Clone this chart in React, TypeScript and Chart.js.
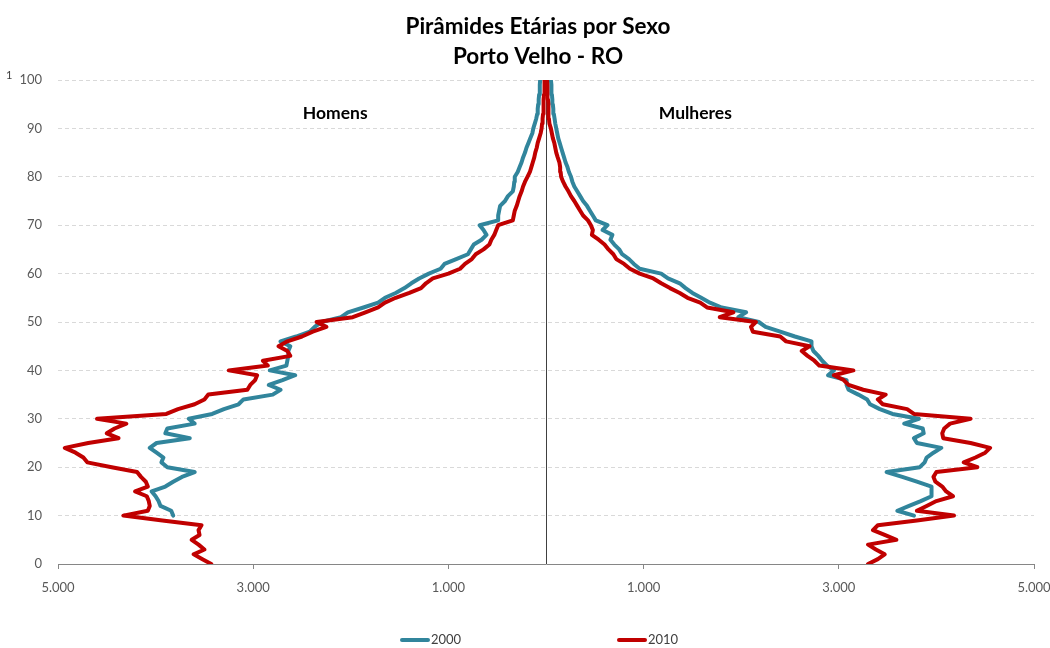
import React, { useEffect, useRef } from 'react';
import { Chart, registerables } from 'chart.js';

Chart.register(...registerables);

const TITLE = ['Pirâmides Etárias por Sexo', 'Porto Velho - RO'];
const SIDE_LABELS = ['Homens', 'Mulheres'];
const SERIES_LABELS = ['2000', '2010'];
const SERIES_COLORS = ['#31859C', '#C00000'];
const X_TICKS = [-5000, -3000, -1000, 1000, 3000, 5000];
const FIRST_AGE_2010 = 0;
const FIRST_AGE_2000 = 10;

// Population by single year of age (men shown on the left side)
const MEN_2010 = [
  3430, 3520, 3610, 3500, 3560, 3630, 3550, 3560, 3530, 3930,
  4330, 4080, 4060, 4070, 4090, 4210, 4080, 4100, 4150, 4190,
  4450, 4700, 4740, 4820, 4930, 4690, 4380, 4500, 4420, 4300,
  4600, 3890, 3770, 3600, 3500, 3460, 3060, 3030, 2980, 2960,
  3250, 2850, 2900, 2620, 2650, 2740, 2650, 2500, 2390, 2250,
  2350, 1980, 1850, 1720, 1650, 1540, 1400, 1280, 1230, 1160,
  1000, 880, 830, 760, 720, 640, 580, 560, 530, 510,
  490, 340, 330, 320, 300, 285, 270, 250, 235, 215,
  190, 165, 150, 135, 120, 110, 95, 85, 70, 55,
  45, 40, 35, 30, 28, 25, 22, 20, 18, 15, 12,
];
const WOMEN_2010 = [
  3300, 3400, 3470, 3380, 3300, 3590, 3470, 3350, 3400, 3800,
  4180, 3800, 3900, 4000, 4170, 4100, 4060, 3990, 3970, 4000,
  4420, 4280, 4400, 4500, 4550, 4350, 4070, 4060, 4080, 4140,
  4350, 3770, 3700, 3450, 3400, 3480, 3250, 3100, 3050, 2950,
  3150, 2800, 2750, 2680, 2620, 2700, 2460, 2400, 2120, 2100,
  2150, 1780, 1920, 1650, 1580, 1450, 1370, 1270, 1180, 1100,
  960, 860, 800, 720, 690, 640, 600, 540, 470, 480,
  460, 430, 380, 350, 320, 290, 256, 230, 200, 175,
  155, 150, 145, 137, 120, 105, 95, 85, 70, 60,
  50, 35, 30, 28, 25, 22, 20, 18, 15, 12, 10,
];
const MEN_2000 = [
  3820, 3840, 3950, 3970, 4000, 4040, 3900, 3820, 3730, 3600,
  3880, 3940, 3920, 3990, 4060, 3990, 3650, 3900, 3880, 3600,
  3660, 3420, 3300, 3150, 3100, 2800, 2720, 2840, 2700, 2570,
  2830, 2660, 2650, 2640, 2640, 2620, 2720, 2560, 2420, 2370,
  2300, 2100, 2030, 1870, 1720, 1650, 1540, 1450, 1380, 1300,
  1200, 1080, 1040, 920, 800, 770, 740, 660, 610, 640,
  680, 490, 490, 480, 470, 420, 390, 340, 330, 325,
  320, 290, 270, 250, 235, 215, 200, 180, 160, 140,
  130, 115, 100, 90, 85, 80, 75, 70, 65, 62, 60,
];
const WOMEN_2000 = [
  3770, 3600, 3720, 3840, 3950, 3950, 3950, 3800, 3650, 3490,
  3830, 3880, 3900, 3970, 4050, 3800, 3770, 3870, 3860, 3670,
  3820, 3550, 3420, 3320, 3290, 3200, 3100, 3080, 3080, 2890,
  2950, 2880, 2830, 2790, 2740, 2720, 2720, 2550, 2400, 2250,
  2180, 1970, 2050, 1800, 1680, 1590, 1500, 1430, 1370, 1250,
  1180, 960, 900, 850, 780, 750, 700, 660, 680, 580,
  630, 510, 480, 450, 420, 380, 350, 320, 290, 270,
  256, 235, 220, 200, 185, 170, 155, 140, 125, 115,
  105, 95, 88, 80, 75, 70, 65, 60, 57, 54, 50,
];

const FONT = 'Lato, "Open Sans", sans-serif';

function toPoints(values: number[], firstAge: number, sign: number) {
  return values.map((v, i) => ({ x: sign * v, y: firstAge + i }));
}

function fmt(v: number) {
  return String(Math.abs(v)).replace(/\B(?=(\d{3})+(?!\d))/g, '.');
}

const decorPlugin = {
  id: 'decor',
  beforeDatasetsDraw(chart: any) {
    const { ctx, chartArea, scales } = chart;
    const x0 = Math.round(scales.x.getPixelForValue(0)) + 0.5;
    ctx.save();
    ctx.strokeStyle = '#404040';
    ctx.lineWidth = 1;
    ctx.beginPath();
    ctx.moveTo(x0, chartArea.top);
    ctx.lineTo(x0, chartArea.bottom);
    ctx.stroke();
    ctx.restore();
  },
  afterDraw(chart: any) {
    const { ctx, scales } = chart;
    ctx.save();
    // title
    ctx.font = `bold 22.5px ${FONT}`;
    ctx.fillStyle = '#000000';
    ctx.textAlign = 'center';
    ctx.textBaseline = 'middle';
    ctx.fillText(TITLE[0], 538, 27);
    ctx.fillText(TITLE[1], 538, 57);
    // side labels
    ctx.font = `bold 17.5px ${FONT}`;
    ctx.fillText(SIDE_LABELS[0], scales.x.getPixelForValue(-2160), scales.y.getPixelForValue(93.2));
    ctx.fillText(SIDE_LABELS[1], scales.x.getPixelForValue(1530), scales.y.getPixelForValue(93.2));
    // stray "1"
    ctx.font = `11px ${FONT}`;
    ctx.fillStyle = '#404040';
    ctx.textAlign = 'left';
    ctx.fillText('1', 6, 75);
    // legend
    const legendX = [400, 617];
    const ly = 640;
    ctx.font = `13px ${FONT}`;
    SERIES_LABELS.forEach((label, i) => {
      ctx.strokeStyle = SERIES_COLORS[i];
      ctx.lineWidth = 4;
      ctx.lineCap = 'round';
      ctx.beginPath();
      ctx.moveTo(legendX[i] + 2, ly);
      ctx.lineTo(legendX[i] + 28, ly);
      ctx.stroke();
      ctx.fillStyle = '#404040';
      ctx.textAlign = 'left';
      ctx.fillText(label, legendX[i] + 31, ly);
    });
    ctx.restore();
  },
};

export default function App() {
  const ref = useRef<HTMLCanvasElement | null>(null);

  useEffect(() => {
    if (!ref.current) return;
    const lineStyle = (color: string, order: number) => ({
      borderColor: color,
      backgroundColor: color,
      borderWidth: 4,
      pointRadius: 0,
      pointHoverRadius: 0,
      showLine: true,
      tension: 0,
      borderJoinStyle: 'round' as const,
      borderCapStyle: 'round' as const,
      order,
    });
    const chart = new Chart(ref.current, {
      type: 'scatter',
      data: {
        datasets: [
          { label: SERIES_LABELS[0], data: toPoints(MEN_2000, FIRST_AGE_2000, -1), ...lineStyle(SERIES_COLORS[0], 1) },
          { label: SERIES_LABELS[0], data: toPoints(WOMEN_2000, FIRST_AGE_2000, 1), ...lineStyle(SERIES_COLORS[0], 1) },
          { label: SERIES_LABELS[1], data: toPoints(MEN_2010, FIRST_AGE_2010, -1), ...lineStyle(SERIES_COLORS[1], 0) },
          { label: SERIES_LABELS[1], data: toPoints(WOMEN_2010, FIRST_AGE_2010, 1), ...lineStyle(SERIES_COLORS[1], 0) },
        ],
      },
      options: {
        animation: false,
        responsive: true,
        maintainAspectRatio: false,
        layout: { padding: { left: 0, right: 16, top: 80, bottom: 0 } },
        plugins: {
          legend: { display: false },
          tooltip: { enabled: false },
          title: { display: false },
        },
        scales: {
          x: {
            type: 'linear',
            position: 'bottom',
            min: -5000,
            max: 5000,
            afterBuildTicks: (s: any) => {
              s.ticks = X_TICKS.map((v) => ({ value: v }));
            },
            afterFit: (s: any) => {
              s.height = 84;
              s.paddingLeft = 0;
              s.paddingRight = 0;
            },
            ticks: {
              callback: (v: any) => fmt(Number(v)),
              color: '#595959',
              font: { family: FONT, size: 13 },
              padding: 11,
              maxRotation: 0,
              autoSkip: false,
            },
            grid: {
              drawOnChartArea: false,
              drawTicks: true,
              tickLength: 5,
              tickColor: '#868686',
            },
            border: { display: true, color: '#868686', width: 1 },
          },
          y: {
            type: 'linear',
            min: 0,
            max: 100,
            afterFit: (s: any) => {
              s.width = 58;
              s.paddingTop = 0;
              s.paddingBottom = 0;
            },
            ticks: {
              stepSize: 10,
              color: '#595959',
              font: { family: FONT, size: 13 },
              padding: 16,
            },
            grid: {
              color: '#d9d9d9',
              drawTicks: false,
            },
            border: { display: false, dash: [4, 3] },
          },
        },
      },
      plugins: [decorPlugin],
    });
    return () => chart.destroy();
  }, []);

  return (
    <div style={{ position: 'absolute', left: 0, top: 0, width: 1050, height: 648, background: '#ffffff' }}>
      <canvas ref={ref} />
    </div>
  );
}
